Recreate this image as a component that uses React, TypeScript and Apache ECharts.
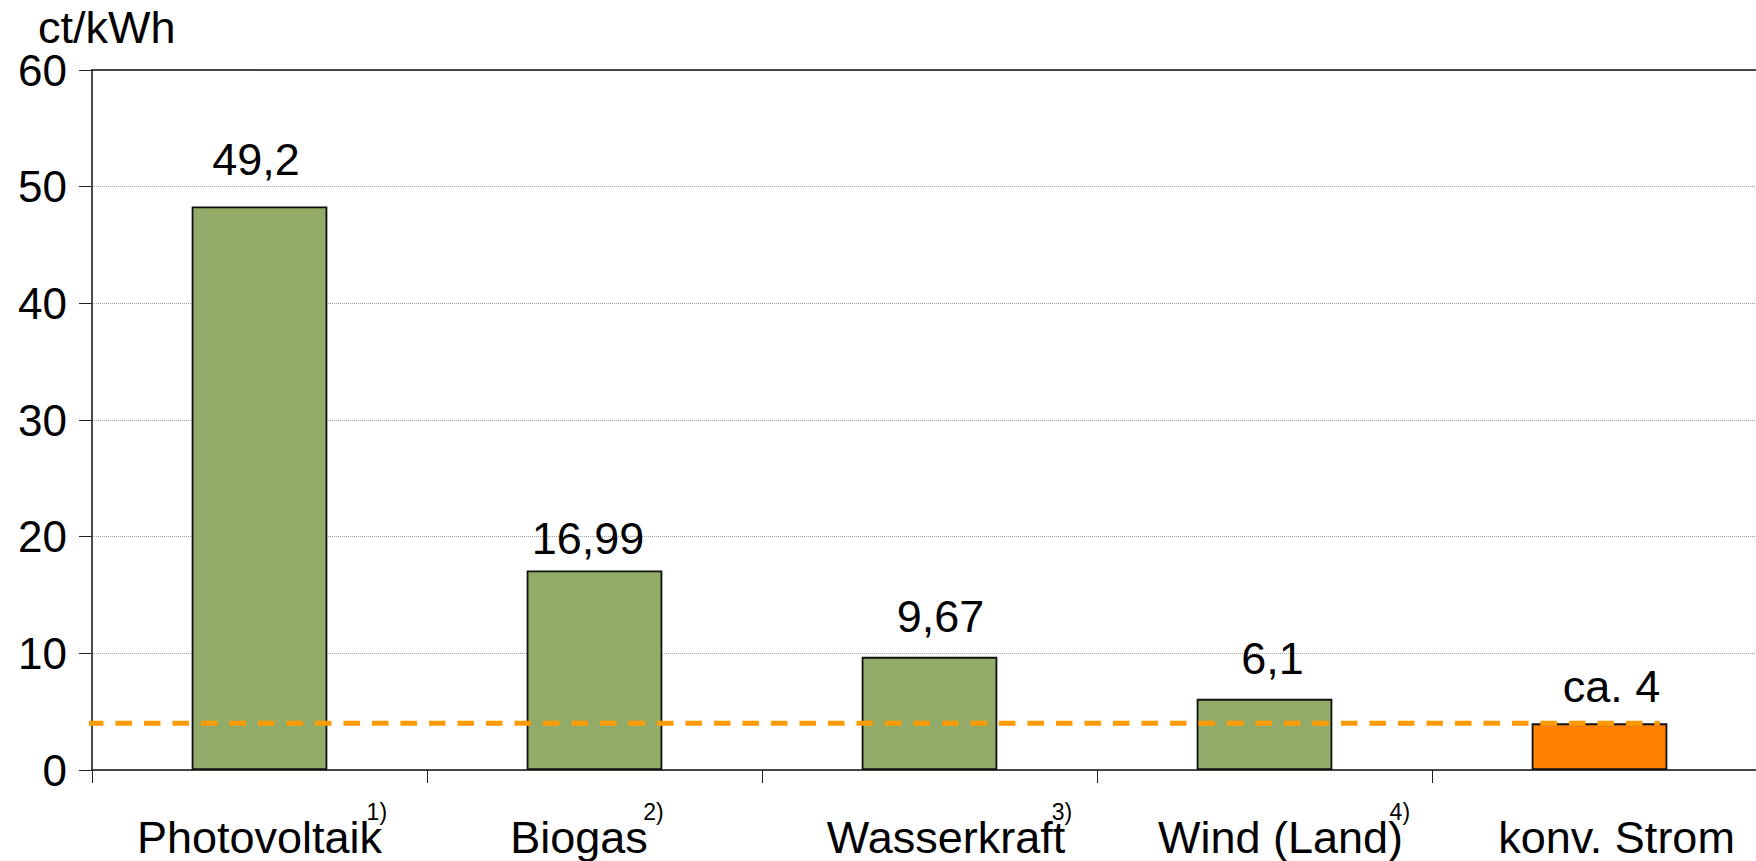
import React, { useEffect, useRef } from "react";
import * as echarts from "echarts";

const categories = ["Photovoltaik", "Biogas", "Wasserkraft", "Wind (Land)", "konv. Strom"];
const footnotes = ["1)", "2)", "3)", "4)", ""];
const barValues = [48.3, 17.1, 9.7, 6.1, 4.0];
const valueLabels = ["49,2", "16,99", "9,67", "6,1", "ca. 4"];
const referenceLevel = 4.0;
const referenceSpan = [-0.015, 4.68];
const yTicks = { min: 0, max: 60, interval: 10 };
const unitLabel = "ct/kWh";

const FONT = "'Liberation Sans', Arial, Helvetica, sans-serif";
const GREEN = "#93AB69";
const ORANGE = "#FF8000";
const DASH = "#FF9A00";

// label layout tweaks (styles only)
const padLeft = [5, 0, 40, 39, 34];
const padRight = [5, 31, 7, 7, 0];
const supPad = [0, 15, 0, 0, 0];
const labelDistance = [24.7, 10, 18, 18, 15];
const labelShiftX = [-3.5, -6.5, 11, 8, 12];

export default function App() {
  const ref = useRef<HTMLDivElement>(null);

  useEffect(() => {
    if (!ref.current) return;
    const chart = echarts.init(ref.current, undefined, { renderer: "svg" });

    const rich: any = {
      a: { fontSize: 45, lineHeight: 42, color: "#000", fontFamily: FONT },
    };
    categories.forEach((_, i) => {
      rich["l" + i] = { width: padLeft[i], lineHeight: 42, fontSize: 45 };
      rich["r" + i] = { width: padRight[i], lineHeight: 42, fontSize: 45 };
      rich["s" + i] = {
        fontSize: 23,
        lineHeight: 10,
        align: "right",
        color: "#000",
        fontFamily: FONT,
        padding: [0, supPad[i], 0, 0],
      };
    });

    const option: any = {
      animation: false,
      backgroundColor: "#fff",
      title: {
        text: unitLabel,
        left: 33,
        top: 0,
        textStyle: { fontSize: 45, fontWeight: "normal", color: "#000", fontFamily: FONT, lineHeight: 45 },
      },
      grid: { left: 92, right: 0, top: 70, bottom: 91, containLabel: false },
      xAxis: [
        {
          type: "category",
          data: categories,
          position: "bottom",
          axisLine: { lineStyle: { color: "#111", width: 1.5 } },
          axisTick: { show: true, length: 13, lineStyle: { color: "#222", width: 1 } },
          axisLabel: {
            interval: 0,
            margin: 36.5,
            fontSize: 45,
            fontFamily: FONT,
            color: "#000",
            formatter: (value: string, idx: number) =>
              `{s${idx}|${footnotes[idx]}}\n{l${idx}|}{a|${value}}{r${idx}|}`,
            rich,
          },
          splitLine: { show: false },
        },
        {
          type: "category",
          data: categories,
          position: "top",
          axisLine: { show: true, lineStyle: { color: "#111", width: 1.5 } },
          axisTick: { show: false },
          axisLabel: { show: false },
        },
        {
          type: "value",
          min: 0,
          max: 5,
          show: false,
          position: "bottom",
        },
      ],
      yAxis: {
        type: "value",
        min: yTicks.min,
        max: yTicks.max,
        interval: yTicks.interval,
        axisLine: { show: true, lineStyle: { color: "#111", width: 1.5 } },
        axisTick: { show: true, length: 13, lineStyle: { color: "#222", width: 1 } },
        axisLabel: { fontSize: 44, fontFamily: FONT, color: "#000", margin: 25 },
        splitLine: { show: true, lineStyle: { color: "#9c9c9c", width: 1, type: [1, 1] } },
      },
      series: [
        {
          type: "bar",
          xAxisIndex: 0,
          barWidth: "40.5%",
          data: barValues.map((v, i) => ({
            value: v,
            itemStyle: { color: i === barValues.length - 1 ? ORANGE : GREEN },
            label: { distance: labelDistance[i], offset: [labelShiftX[i], 0] },
          })),
          itemStyle: { borderColor: "#111", borderWidth: 1.8 },
          label: {
            show: true,
            position: "top",
            fontSize: 45,
            lineHeight: 44,
            fontFamily: FONT,
            color: "#000",
            formatter: (p: any) => valueLabels[p.dataIndex],
          },
          z: 2,
        },
        {
          type: "line",
          xAxisIndex: 2,
          data: [
            [referenceSpan[0], referenceLevel],
            [referenceSpan[1], referenceLevel],
          ],
          symbol: "none",
          clip: false,
          lineStyle: { color: DASH, width: 5, type: [16.5, 12] },
          z: 5,
        },
      ],
    };

    chart.setOption(option);
    return () => chart.dispose();
  }, []);

  return (
    <div
      style={{
        position: "absolute",
        left: 0,
        top: 0,
        width: 1756,
        height: 861,
        overflow: "hidden",
        background: "#fff",
      }}
    >
      <div ref={ref} style={{ position: "absolute", left: 0, top: 0, width: 1767, height: 861 }} />
    </div>
  );
}
